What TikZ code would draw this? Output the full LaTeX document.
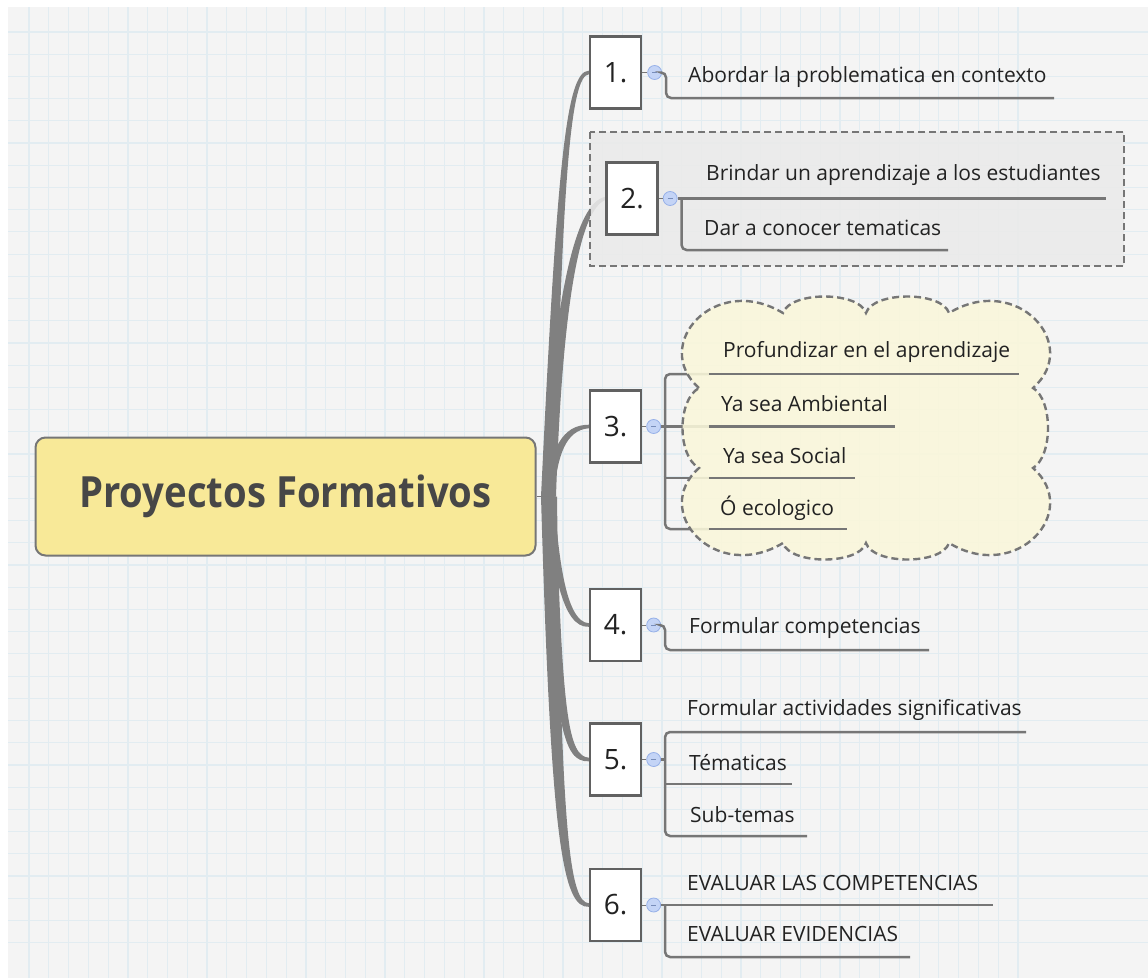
\documentclass[tikz,border=0pt]{standalone}
\usepackage{fontspec}
\setmainfont{Open Sans}
\newfontfamily\rootfont{Open Sans}[FakeStretch=0.89]
\usetikzlibrary{positioning}

\definecolor{paper}{RGB}{244,244,244}
\definecolor{gridblue}{RGB}{226,236,241}
\definecolor{branchgray}{RGB}{128,128,128}
\definecolor{linegray}{RGB}{118,118,118}
\definecolor{rootyellow}{RGB}{248,233,152}
\definecolor{cloudcream}{RGB}{250,247,218}
\definecolor{boundgray}{RGB}{234,234,234}
\definecolor{bulletblue}{RGB}{196,212,246}
\definecolor{bulletedge}{RGB}{150,176,232}
\definecolor{inkgray}{RGB}{34,34,34}

\pgfdeclarelayer{grid}
\pgfdeclarelayer{branches}
\pgfdeclarelayer{bound}
\pgfsetlayers{grid,branches,bound,main}

\begin{document}
\begin{tikzpicture}[x=1pt,y=-1pt]
\useasboundingbox (0,0) rectangle (1148,978);

\tikzstyle{gridline}=[gridblue,line width=1.2]
\tikzstyle{root}=[draw=linegray,line width=2,fill=rootyellow,rounded corners=10,minimum width=500,minimum height=118,text=black!72,font=\rootfont\fontsize{43}{50}\selectfont\bfseries]
\tikzstyle{numbox}=[draw=black!62,line width=2.5,fill=white,minimum width=51,minimum height=72,inner sep=0pt,text=inkgray,font=\fontsize{28}{32}\selectfont]
\tikzstyle{bullet}=[circle,draw=bulletedge,fill=bulletblue,line width=0.8,minimum size=14,inner sep=0pt,
  path picture={\draw[bulletedge!80!black,line width=0.8] ([xshift=-2.5pt]path picture bounding box.center) -- ([xshift=2.5pt]path picture bounding box.center);}]
\tikzstyle{subtext}=[anchor=base west,inner sep=0pt,text=inkgray,font=\fontsize{21}{25}\selectfont]
\tikzstyle{subline}=[linegray,line width=2.5]
\tikzstyle{stub}=[linegray,line width=1]
\tikzstyle{branch}=[fill=branchgray]
\tikzstyle{dashedge}=[linegray,line width=2.4,dash pattern=on 7pt off 4pt,fill opacity=0.88]

% paper and grid
\begin{pgfonlayer}{grid}
\fill[white] (0,0) rectangle (1148,978);
\fill[paper] (8,7) rectangle (1148,978);
\foreach \i in {0,...,50} \draw[gridline] ({29+19.78*\i},7) -- ({29+19.78*\i},978);
\foreach \j in {0,...,41} \draw[gridline] (8,{32+22.21*\j}) -- (1148,{32+22.21*\j});
\end{pgfonlayer}

% central topic and numbered steps
\node[root] (root) at (285.5,496.5) {Proyectos Formativos};
\coordinate (hub) at (549,496.5);

\node[numbox] (n1) at (615.5,72.5) {1.};
\node[numbox] (n2) at (632,198.5) {2.};
\node[numbox] (n3) at (615.5,426.5) {3.};
\node[numbox] (n4) at (615.5,625) {4.};
\node[numbox] (n5) at (615.5,759.5) {5.};
\node[numbox] (n6) at (615.5,905) {6.};

\node[bullet,right=5 of n1] (c1) {};
\node[bullet,right=4 of n2] (c2) {};
\node[bullet,right=4 of n3] (c3) {};
\node[bullet,right=4 of n4] (c4) {};
\node[bullet,right=4 of n5] (c5) {};
\node[bullet,right=4 of n6] (c6) {};
\foreach \k in {1,...,6} \draw[stub] (n\k) -- (c\k);

% branches from the central topic
\begin{pgfonlayer}{branches}
\draw[stub,line width=1.5] (root.east) -- (hub);
\fill[branch] ([xshift=-8]hub) .. controls (557,165) and (566,71) .. ([yshift=1.8]n1.west)
  -- ([yshift=-1.8]n1.west) .. controls (571,76) and (562,175) .. ([xshift=6]hub) -- cycle;
\fill[branch] ([xshift=-7]hub) .. controls (553,300) and (575,202) .. ([yshift=1.6]n2.west)
  -- ([yshift=-1.6]n2.west) .. controls (579,210) and (562,310) .. ([xshift=7]hub) -- cycle;
\fill[branch] ([xshift=-5]hub) .. controls (551,448) and (562,425) .. ([yshift=1.8]n3.west)
  -- ([yshift=-1.8]n3.west) .. controls (566,430) and (557,455) .. ([xshift=5]hub) -- cycle;
\fill[branch] ([xshift=-5]hub) .. controls (553,570) and (562,628) .. ([yshift=-1.8]n4.west)
  -- ([yshift=1.8]n4.west) .. controls (567,622) and (559,565) .. ([xshift=5]hub) -- cycle;
\fill[branch] ([xshift=-7]hub) .. controls (554,730) and (563,762) .. ([yshift=-1.8]n5.west)
  -- ([yshift=1.8]n5.west) .. controls (569,756) and (562,720) .. ([xshift=7]hub) -- cycle;
\fill[branch] ([xshift=-8]hub) .. controls (551,845) and (563,908) .. ([yshift=-1.8]n6.west)
  -- ([yshift=1.8]n6.west) .. controls (570,902) and (561,835) .. ([xshift=8]hub) -- cycle;
\end{pgfonlayer}

% boundary round step 2, cloud round step 3
\begin{pgfonlayer}{bound}
\draw[dashedge,fill=boundgray] (590,132) rectangle (1124,266);
\draw[dashedge,fill=cloudcream]
  (699,388) .. controls (650,345) and (715,272) .. (783,313)
  .. controls (790,291) and (859,291) .. (866,313)
  .. controls (873,291) and (942,291) .. (949,313)
  .. controls (1017,272) and (1082,345) .. (1033,388)
  .. controls (1053,400) and (1053,456) .. (1033,468)
  .. controls (1082,511) and (1017,584) .. (949,543)
  .. controls (942,565) and (873,565) .. (866,543)
  .. controls (859,565) and (790,565) .. (783,543)
  .. controls (715,584) and (650,511) .. (699,468)
  .. controls (677,456) and (677,400) .. (699,388) -- cycle;
\end{pgfonlayer}

% 1.
\node[subtext] (a1) at (688,82) {Abordar la problematica en contexto};
\coordinate (e1) at (1054,98);
\draw[subline,rounded corners=5] (c1.east) -- ++(4,0) |- (e1);

% 2.
\node[subtext] (a21) at (706,180) {Brindar un aprendizaje a los estudiantes};
\node[subtext] (a22) at (704,235) {Dar a conocer tematicas};
\coordinate (e21) at (1106,198.5);
\coordinate (e22) at (948,250);
\draw[subline] (c2.east) -- (e21);
\draw[subline,rounded corners=5] (c2.east) ++(4,0) |- (e22);

% 3.
\node[subtext] (a31) at (723,357) {Profundizar en el aprendizaje};
\node[subtext] (a32) at (721,411) {Ya sea Ambiental};
\node[subtext] (a33) at (723,463) {Ya sea Social};
\node[subtext] (a34) at (720,515) {Ó ecologico};
\coordinate (s31) at (709,374);  \coordinate (e31) at (1019,374);
\coordinate (s32) at (709,426.5);\coordinate (e32) at (895,426.5);
\coordinate (s33) at (709,478);  \coordinate (e33) at (855,478);
\coordinate (s34) at (709,529);  \coordinate (e34) at (847,529);
\coordinate (k3) at ([xshift=4]c3.east);
\begin{pgfonlayer}{branches}
\draw[subline,rounded corners=5] (s31) -| (k3) |- (s34);
\draw[subline] (c3.east) -- (s32);
\draw[subline] (k3 |- s33) -- (s33);
\end{pgfonlayer}
\foreach \k in {1,...,4} \draw[subline] (s3\k) -- (e3\k);

% 4.
\node[subtext] (a4) at (689,633) {Formular competencias};
\coordinate (e4) at (929,650);
\draw[subline,rounded corners=5] (c4.east) -- ++(4,0) |- (e4);

% 5.
\node[subtext] (a51) at (687,715) {Formular actividades significativas};
\node[subtext] (a52) at (689,770) {Tématicas};
\node[subtext] (a53) at (690,822) {Sub-temas};
\coordinate (e51) at (1026,732);
\coordinate (e52) at (792,784);
\coordinate (e53) at (807,836);
\coordinate (k5) at ([xshift=4]c5.east);
\draw[subline,rounded corners=5] (e51) -| (k5) |- (e53);
\draw[subline] (c5.east) -- (k5);
\draw[subline] (k5 |- e52) -- (e52);

% 6.
\node[subtext] (a61) at (687,890) {EVALUAR LAS COMPETENCIAS};
\node[subtext] (a62) at (687,941) {EVALUAR EVIDENCIAS};
\coordinate (e61) at (993,905);
\coordinate (e62) at (910,957);
\draw[subline] (c6.east) -- (e61);
\draw[subline,rounded corners=5] (c6.east) ++(4,0) |- (e62);
\end{tikzpicture}
\end{document}
